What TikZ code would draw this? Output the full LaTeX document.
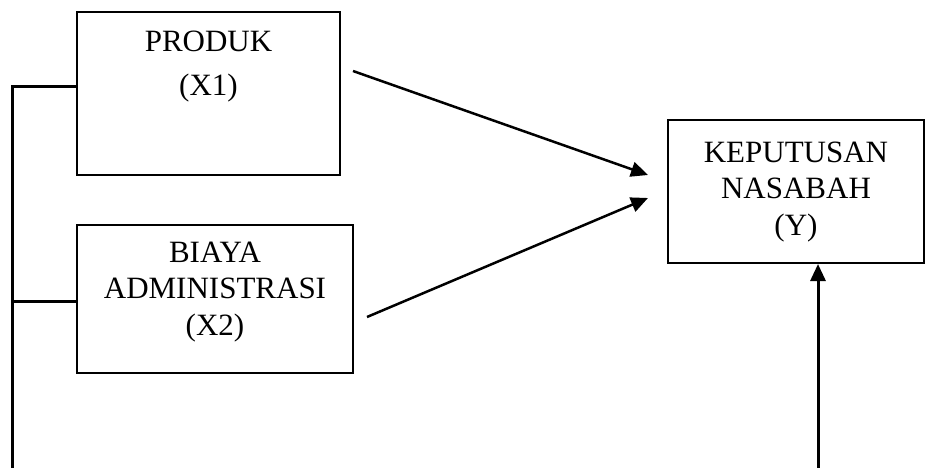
\documentclass[tikz,border=0pt]{standalone}
\usepackage{fontspec}
\setmainfont{Liberation Serif}
\usetikzlibrary{arrows.meta}
\begin{document}
\begin{tikzpicture}[x=1pt,y=-1pt,
  box/.style={draw,line width=2pt,rectangle,inner sep=0pt},
  txt/.style={align=center,inner sep=0pt,font=\fontsize{31}{36.5}\selectfont},
  bus/.style={line width=3pt},
  arr/.style={line width=2.5pt,-{Triangle[length=17pt,width=15pt]}},
  arrup/.style={line width=3pt,-{Triangle[length=17pt,width=15pt]}}]
\useasboundingbox (0,0) rectangle (926,468);
% boxes
\node[box,minimum width=263pt,minimum height=163pt] (x1) at (208.5,93.5) {};
\node[box,minimum width=276pt,minimum height=148pt] (x2) at (215,299) {};
\node[box,minimum width=256pt,minimum height=143pt] (y) at (796,191.5) {};
% texts
\node[txt,anchor=base] (t1a) at (208.5,52) {PRODUK};
\node[txt,anchor=base] (t1b) at (208.5,96) {(X1)};
\node[txt,anchor=base] (t2) at (215,335) {BIAYA\\ADMINISTRASI\\(X2)};
\node[txt,anchor=base] (t3) at (796,235) {KEPUTUSAN\\NASABAH\\(Y)};
% coordinates
\coordinate (bb) at (12,468);
\coordinate (bt) at (12,87);
\coordinate (h2) at (12,301);
\coordinate (a1s) at (353,71);
\coordinate (a1e) at (648,175);
\coordinate (a2s) at (367,317);
\coordinate (a2e) at (648,198);
\coordinate (ub) at (818,468);
% connectors
\draw[bus] (bb) -- (bt) -- (bt -| x1.west);
\draw[bus] (h2) -- (h2 -| x2.west);
\draw[arr] (a1s) -- (a1e);
\draw[arr] (a2s) -- (a2e);
\draw[arrup] (ub) -- (ub |- y.south);
\end{tikzpicture}
\end{document}
